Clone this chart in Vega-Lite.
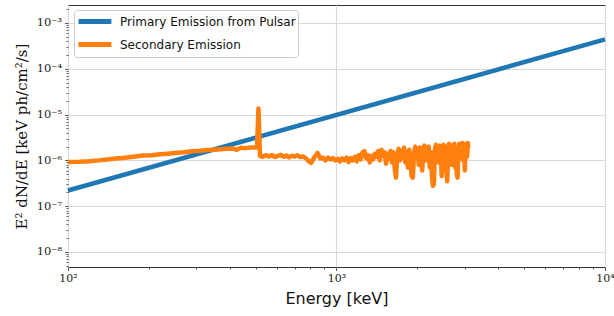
{
 "$schema": "https://vega.github.io/schema/vega-lite/v6.json",
 "width": 537, "height": 262,
 "autosize": {"type": "none"},
 "padding": {"left": 68, "top": 5, "right": 9, "bottom": 49},
 "config": {
  "view": {"stroke": "#333333", "strokeWidth": 1},
  "axis": {"domain": false, "tickColor": "#333333", "tickWidth": 0.8, "labelColor": "#222222", "titleColor": "#111111"}
 },
 "data": {"values": [
  {"E": 100, "flux": 2.2e-7, "series": "Primary Emission from Pulsar"},
  {"E": 10000, "flux": 4.4e-4, "series": "Primary Emission from Pulsar"},
  {"E": 100, "flux": 9.2e-7, "series": "Secondary Emission"},
  {"E": 110, "flux": 9.3e-7, "series": "Secondary Emission"},
  {"E": 120, "flux": 9.6e-7, "series": "Secondary Emission"},
  {"E": 130, "flux": 1.0e-6, "series": "Secondary Emission"},
  {"E": 140, "flux": 1.05e-6, "series": "Secondary Emission"},
  {"E": 150, "flux": 1.1e-6, "series": "Secondary Emission"},
  {"E": 160, "flux": 1.13e-6, "series": "Secondary Emission"},
  {"E": 175, "flux": 1.2e-6, "series": "Secondary Emission"},
  {"E": 190, "flux": 1.28e-6, "series": "Secondary Emission"},
  {"E": 205, "flux": 1.3e-6, "series": "Secondary Emission"},
  {"E": 220, "flux": 1.36e-6, "series": "Secondary Emission"},
  {"E": 235, "flux": 1.4e-6, "series": "Secondary Emission"},
  {"E": 250, "flux": 1.45e-6, "series": "Secondary Emission"},
  {"E": 270, "flux": 1.5e-6, "series": "Secondary Emission"},
  {"E": 290, "flux": 1.58e-6, "series": "Secondary Emission"},
  {"E": 310, "flux": 1.62e-6, "series": "Secondary Emission"},
  {"E": 330, "flux": 1.68e-6, "series": "Secondary Emission"},
  {"E": 350, "flux": 1.7e-6, "series": "Secondary Emission"},
  {"E": 370, "flux": 1.75e-6, "series": "Secondary Emission"},
  {"E": 390, "flux": 1.8e-6, "series": "Secondary Emission"},
  {"E": 410, "flux": 1.82e-6, "series": "Secondary Emission"},
  {"E": 425, "flux": 1.7e-6, "series": "Secondary Emission"},
  {"E": 440, "flux": 1.88e-6, "series": "Secondary Emission"},
  {"E": 460, "flux": 1.85e-6, "series": "Secondary Emission"},
  {"E": 480, "flux": 1.92e-6, "series": "Secondary Emission"},
  {"E": 500, "flux": 1.9e-6, "series": "Secondary Emission"},
  {"E": 506, "flux": 1.95e-6, "series": "Secondary Emission"},
  {"E": 512, "flux": 1.35e-5, "series": "Secondary Emission"},
  {"E": 519, "flux": 1.25e-6, "series": "Secondary Emission"},
  {"E": 530, "flux": 1.2e-6, "series": "Secondary Emission"},
  {"E": 545, "flux": 1.3e-6, "series": "Secondary Emission"},
  {"E": 560, "flux": 1.22e-6, "series": "Secondary Emission"},
  {"E": 575, "flux": 1.3e-6, "series": "Secondary Emission"},
  {"E": 590, "flux": 1.18e-6, "series": "Secondary Emission"},
  {"E": 605, "flux": 1.26e-6, "series": "Secondary Emission"},
  {"E": 620, "flux": 1.32e-6, "series": "Secondary Emission"},
  {"E": 635, "flux": 1.2e-6, "series": "Secondary Emission"},
  {"E": 650, "flux": 1.28e-6, "series": "Secondary Emission"},
  {"E": 665, "flux": 1.16e-6, "series": "Secondary Emission"},
  {"E": 680, "flux": 1.26e-6, "series": "Secondary Emission"},
  {"E": 700, "flux": 1.22e-6, "series": "Secondary Emission"},
  {"E": 715, "flux": 1.3e-6, "series": "Secondary Emission"},
  {"E": 730, "flux": 1.18e-6, "series": "Secondary Emission"},
  {"E": 750, "flux": 1.22e-6, "series": "Secondary Emission"},
  {"E": 770, "flux": 1.1e-6, "series": "Secondary Emission"},
  {"E": 790, "flux": 0.95e-6, "series": "Secondary Emission"},
  {"E": 805, "flux": 0.88e-6, "series": "Secondary Emission"},
  {"E": 825, "flux": 1.15e-6, "series": "Secondary Emission"},
  {"E": 850, "flux": 1.45e-6, "series": "Secondary Emission"},
  {"E": 870, "flux": 1.1e-6, "series": "Secondary Emission"},
  {"E": 890, "flux": 1.15e-6, "series": "Secondary Emission"},
  {"E": 910, "flux": 1.0e-6, "series": "Secondary Emission"},
  {"E": 930, "flux": 1.15e-6, "series": "Secondary Emission"},
  {"E": 950, "flux": 1.05e-6, "series": "Secondary Emission"},
  {"E": 970, "flux": 1.12e-6, "series": "Secondary Emission"},
  {"E": 990, "flux": 1.0e-6, "series": "Secondary Emission"},
  {"E": 1010, "flux": 1.08e-6, "series": "Secondary Emission"},
  {"E": 1030, "flux": 0.95e-6, "series": "Secondary Emission"},
  {"E": 1050, "flux": 1.1e-6, "series": "Secondary Emission"},
  {"E": 1070, "flux": 1.0e-6, "series": "Secondary Emission"},
  {"E": 1090, "flux": 1.15e-6, "series": "Secondary Emission"},
  {"E": 1110, "flux": 0.92e-6, "series": "Secondary Emission"},
  {"E": 1130, "flux": 1.12e-6, "series": "Secondary Emission"},
  {"E": 1150, "flux": 1.0e-6, "series": "Secondary Emission"},
  {"E": 1170, "flux": 1.2e-6, "series": "Secondary Emission"},
  {"E": 1190, "flux": 0.95e-6, "series": "Secondary Emission"},
  {"E": 1210, "flux": 1.3e-6, "series": "Secondary Emission"},
  {"E": 1230, "flux": 1.05e-6, "series": "Secondary Emission"},
  {"E": 1250, "flux": 1.5e-6, "series": "Secondary Emission"},
  {"E": 1270, "flux": 1.6e-6, "series": "Secondary Emission"},
  {"E": 1290, "flux": 1.1e-6, "series": "Secondary Emission"},
  {"E": 1310, "flux": 1.3e-6, "series": "Secondary Emission"},
  {"E": 1330, "flux": 0.9e-6, "series": "Secondary Emission"},
  {"E": 1350, "flux": 1.25e-6, "series": "Secondary Emission"},
  {"E": 1370, "flux": 1.05e-6, "series": "Secondary Emission"},
  {"E": 1390, "flux": 1.4e-6, "series": "Secondary Emission"},
  {"E": 1410, "flux": 1.2e-6, "series": "Secondary Emission"},
  {"E": 1430, "flux": 1.6e-6, "series": "Secondary Emission"},
  {"E": 1450, "flux": 1.0e-6, "series": "Secondary Emission"},
  {"E": 1470, "flux": 1.7e-6, "series": "Secondary Emission"},
  {"E": 1490, "flux": 1.3e-6, "series": "Secondary Emission"},
  {"E": 1510, "flux": 1.5e-6, "series": "Secondary Emission"},
  {"E": 1530, "flux": 0.85e-6, "series": "Secondary Emission"},
  {"E": 1550, "flux": 1.4e-6, "series": "Secondary Emission"},
  {"E": 1570, "flux": 1.1e-6, "series": "Secondary Emission"},
  {"E": 1590, "flux": 1.6e-6, "series": "Secondary Emission"},
  {"E": 1610, "flux": 0.9e-6, "series": "Secondary Emission"},
  {"E": 1630, "flux": 1.5e-6, "series": "Secondary Emission"},
  {"E": 1650, "flux": 0.6e-6, "series": "Secondary Emission"},
  {"E": 1665, "flux": 0.42e-6, "series": "Secondary Emission"},
  {"E": 1685, "flux": 1.3e-6, "series": "Secondary Emission"},
  {"E": 1705, "flux": 1.8e-6, "series": "Secondary Emission"},
  {"E": 1725, "flux": 1.0e-6, "series": "Secondary Emission"},
  {"E": 1745, "flux": 1.6e-6, "series": "Secondary Emission"},
  {"E": 1765, "flux": 1.2e-6, "series": "Secondary Emission"},
  {"E": 1785, "flux": 1.9e-6, "series": "Secondary Emission"},
  {"E": 1805, "flux": 0.9e-6, "series": "Secondary Emission"},
  {"E": 1825, "flux": 1.5e-6, "series": "Secondary Emission"},
  {"E": 1845, "flux": 0.7e-6, "series": "Secondary Emission"},
  {"E": 1865, "flux": 1.7e-6, "series": "Secondary Emission"},
  {"E": 1885, "flux": 1.1e-6, "series": "Secondary Emission"},
  {"E": 1905, "flux": 0.45e-6, "series": "Secondary Emission"},
  {"E": 1925, "flux": 0.42e-6, "series": "Secondary Emission"},
  {"E": 1945, "flux": 1.5e-6, "series": "Secondary Emission"},
  {"E": 1965, "flux": 2.0e-6, "series": "Secondary Emission"},
  {"E": 1985, "flux": 1.2e-6, "series": "Secondary Emission"},
  {"E": 2005, "flux": 1.7e-6, "series": "Secondary Emission"},
  {"E": 2025, "flux": 0.8e-6, "series": "Secondary Emission"},
  {"E": 2045, "flux": 1.9e-6, "series": "Secondary Emission"},
  {"E": 2065, "flux": 1.3e-6, "series": "Secondary Emission"},
  {"E": 2085, "flux": 0.6e-6, "series": "Secondary Emission"},
  {"E": 2105, "flux": 1.6e-6, "series": "Secondary Emission"},
  {"E": 2125, "flux": 2.1e-6, "series": "Secondary Emission"},
  {"E": 2145, "flux": 1.0e-6, "series": "Secondary Emission"},
  {"E": 2165, "flux": 1.8e-6, "series": "Secondary Emission"},
  {"E": 2185, "flux": 1.2e-6, "series": "Secondary Emission"},
  {"E": 2205, "flux": 2.0e-6, "series": "Secondary Emission"},
  {"E": 2225, "flux": 0.7e-6, "series": "Secondary Emission"},
  {"E": 2245, "flux": 1.5e-6, "series": "Secondary Emission"},
  {"E": 2265, "flux": 0.5e-6, "series": "Secondary Emission"},
  {"E": 2285, "flux": 0.28e-6, "series": "Secondary Emission"},
  {"E": 2305, "flux": 0.3e-6, "series": "Secondary Emission"},
  {"E": 2325, "flux": 1.7e-6, "series": "Secondary Emission"},
  {"E": 2345, "flux": 2.2e-6, "series": "Secondary Emission"},
  {"E": 2365, "flux": 1.1e-6, "series": "Secondary Emission"},
  {"E": 2385, "flux": 1.9e-6, "series": "Secondary Emission"},
  {"E": 2405, "flux": 0.9e-6, "series": "Secondary Emission"},
  {"E": 2425, "flux": 2.1e-6, "series": "Secondary Emission"},
  {"E": 2445, "flux": 1.4e-6, "series": "Secondary Emission"},
  {"E": 2465, "flux": 0.45e-6, "series": "Secondary Emission"},
  {"E": 2485, "flux": 1.6e-6, "series": "Secondary Emission"},
  {"E": 2505, "flux": 2.2e-6, "series": "Secondary Emission"},
  {"E": 2525, "flux": 1.2e-6, "series": "Secondary Emission"},
  {"E": 2545, "flux": 2.0e-6, "series": "Secondary Emission"},
  {"E": 2565, "flux": 0.6e-6, "series": "Secondary Emission"},
  {"E": 2585, "flux": 0.35e-6, "series": "Secondary Emission"},
  {"E": 2605, "flux": 1.5e-6, "series": "Secondary Emission"},
  {"E": 2625, "flux": 2.3e-6, "series": "Secondary Emission"},
  {"E": 2645, "flux": 1.0e-6, "series": "Secondary Emission"},
  {"E": 2665, "flux": 1.9e-6, "series": "Secondary Emission"},
  {"E": 2685, "flux": 0.8e-6, "series": "Secondary Emission"},
  {"E": 2705, "flux": 2.1e-6, "series": "Secondary Emission"},
  {"E": 2725, "flux": 1.3e-6, "series": "Secondary Emission"},
  {"E": 2745, "flux": 2.3e-6, "series": "Secondary Emission"},
  {"E": 2765, "flux": 0.7e-6, "series": "Secondary Emission"},
  {"E": 2785, "flux": 1.8e-6, "series": "Secondary Emission"},
  {"E": 2805, "flux": 0.5e-6, "series": "Secondary Emission"},
  {"E": 2825, "flux": 0.42e-6, "series": "Secondary Emission"},
  {"E": 2845, "flux": 1.6e-6, "series": "Secondary Emission"},
  {"E": 2865, "flux": 2.3e-6, "series": "Secondary Emission"},
  {"E": 2885, "flux": 1.1e-6, "series": "Secondary Emission"},
  {"E": 2905, "flux": 2.0e-6, "series": "Secondary Emission"},
  {"E": 2925, "flux": 1.4e-6, "series": "Secondary Emission"},
  {"E": 2945, "flux": 2.4e-6, "series": "Secondary Emission"},
  {"E": 2965, "flux": 1.0e-6, "series": "Secondary Emission"},
  {"E": 2985, "flux": 2.2e-6, "series": "Secondary Emission"},
  {"E": 3005, "flux": 0.6e-6, "series": "Secondary Emission"},
  {"E": 3025, "flux": 1.8e-6, "series": "Secondary Emission"},
  {"E": 3045, "flux": 2.3e-6, "series": "Secondary Emission"},
  {"E": 3065, "flux": 1.2e-6, "series": "Secondary Emission"},
  {"E": 3085, "flux": 2.4e-6, "series": "Secondary Emission"},
  {"E": 3100, "flux": 1.9e-6, "series": "Secondary Emission"}
 ]},
 "layer": [
  {
   "mark": {"type": "line", "strokeWidth": 4.5, "strokeJoin": "round", "strokeCap": "butt"},
   "encoding": {
    "x": {"field": "E", "type": "quantitative",
     "scale": {"type": "log", "domain": [100, 10000], "nice": false},
     "axis": {"orient": "bottom", "values": [100, 1000, 10000],
      "labelExpr": "datum.value < 500 ? '10²' : datum.value < 5000 ? '10³' : '10⁴'",
      "grid": true, "gridColor": "#d9d9d9", "gridWidth": 1.2,
      "tickSize": 3.5, "labelPadding": 2, "labelFont": "DejaVu Serif", "labelFontSize": 11,
      "labelFlush": false, "labelOverlap": false, "labelBound": false,
      "title": "Energy [keV]", "titleFont": "DejaVu Sans", "titleFontSize": 16, "titleFontWeight": "normal", "titlePadding": 7}},
    "y": {"field": "flux", "type": "quantitative",
     "scale": {"type": "log", "domain": [4.7e-9, 2.47e-3], "nice": false},
     "axis": {"orient": "left", "values": [1e-8, 1e-7, 1e-6, 1e-5, 1e-4, 1e-3],
      "labelExpr": "['10⁻⁸','10⁻⁷','10⁻⁶','10⁻⁵','10⁻⁴','10⁻³'][round(log(datum.value)/LN10)+8]",
      "grid": true, "gridColor": "#d9d9d9", "gridWidth": 1.2,
      "tickSize": 3.5, "labelPadding": 3, "labelFont": "DejaVu Serif", "labelFontSize": 11.5,
      "labelOverlap": false, "labelFlush": false,
      "title": "E² dN/dE  [keV ph/cm²/s]", "titleFont": "DejaVu Serif", "titleFontSize": 15, "titleFontWeight": "normal", "titlePadding": 7}},
    "color": {"field": "series", "type": "nominal",
     "scale": {"domain": ["Primary Emission from Pulsar", "Secondary Emission"], "range": ["#1f77b4", "#ff7f0e"]},
     "legend": {"title": null, "orient": "none", "legendX": 6, "legendY": 5,
      "symbolType": "M-1,0H3.7", "symbolSize": 196, "symbolStrokeWidth": 5,
      "labelFont": "DejaVu Sans", "labelFontSize": 12, "labelColor": "#111111", "labelOffset": 25, "labelLimit": 400,
      "fillColor": "rgba(255,255,255,0.85)", "strokeColor": "#cccccc", "cornerRadius": 3,
      "padding": 2, "rowPadding": 2, "offset": 0}}
   }
  },
  {
   "mark": {"type": "point", "opacity": 0},
   "encoding": {
    "x": {"field": "E", "type": "quantitative",
     "scale": {"type": "log", "domain": [100, 10000], "nice": false},
     "axis": {"orient": "bottom", "values": [200, 300, 400, 500, 600, 700, 800, 900, 2000, 3000, 4000, 5000, 6000, 7000, 8000, 9000],
      "labels": false, "grid": false, "tickSize": 2, "title": null}},
    "y": {"field": "flux", "type": "quantitative",
     "scale": {"type": "log", "domain": [4.7e-9, 2.47e-3], "nice": false},
     "axis": {"orient": "left", "values": [5e-9, 6e-9, 7e-9, 8e-9, 9e-9, 2e-8, 3e-8, 4e-8, 5e-8, 6e-8, 7e-8, 8e-8, 9e-8, 2e-7, 3e-7, 4e-7, 5e-7, 6e-7, 7e-7, 8e-7, 9e-7, 2e-6, 3e-6, 4e-6, 5e-6, 6e-6, 7e-6, 8e-6, 9e-6, 2e-5, 3e-5, 4e-5, 5e-5, 6e-5, 7e-5, 8e-5, 9e-5, 2e-4, 3e-4, 4e-4, 5e-4, 6e-4, 7e-4, 8e-4, 9e-4, 2e-3],
      "labels": false, "grid": false, "tickSize": 2, "title": null}}
   }
  }
 ],
 "resolve": {"axis": {"x": "independent", "y": "independent"}}
}
